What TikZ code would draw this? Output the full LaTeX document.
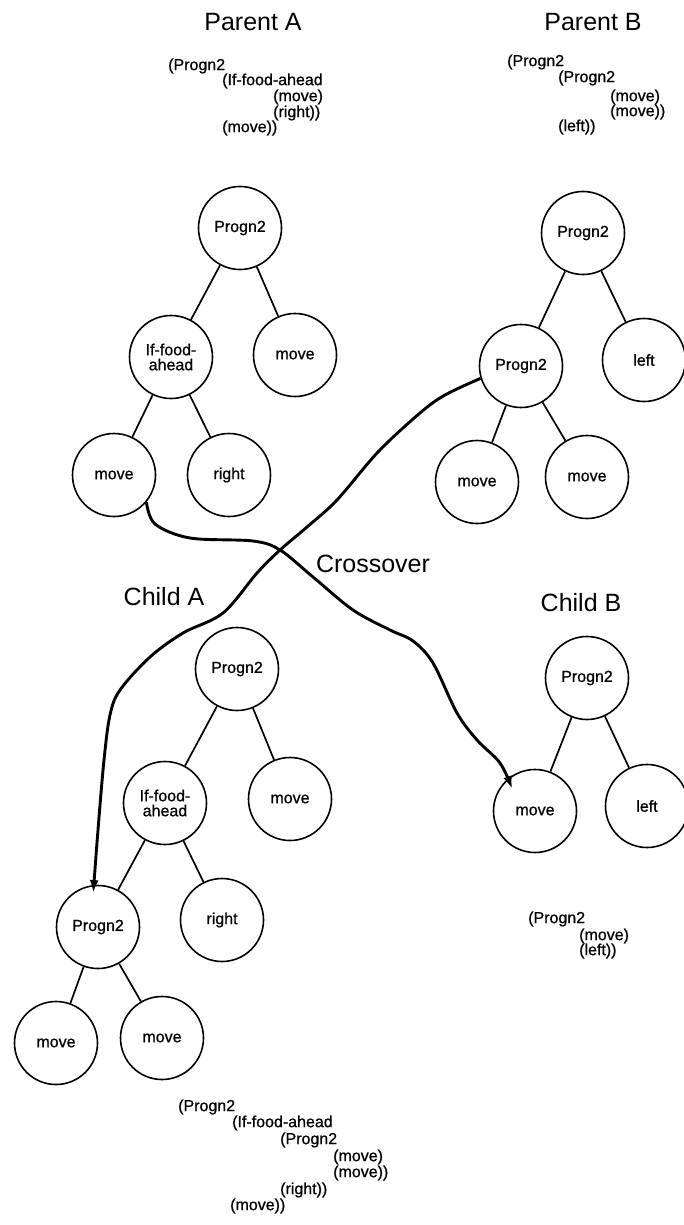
\documentclass[tikz,border=0pt]{standalone}
\usepackage{fontspec}
\setmainfont{Liberation Sans}
\newfontfamily\labfont[FakeBold=0.8]{Liberation Sans}
\usetikzlibrary{arrows.meta,calc}
\begin{document}
\begin{tikzpicture}[x=1pt,y=-1pt,
  tnode/.style={circle,draw,line width=1.6pt,minimum size=83pt,inner sep=0pt,font=\labfont\fontsize{16}{15}\selectfont,align=center},
  edge/.style={line width=1.7pt},
  xover/.style={line width=2.9pt,-{Latex[length=13pt,width=9pt]}},
  title/.style={font=\fontsize{25}{28}\selectfont,inner sep=0pt},
  code/.style={anchor=west,inner sep=0pt,font=\labfont\fontsize{16}{16}\selectfont}]
\useasboundingbox (0,0) rectangle (684,1225);

% titles
\node[title] (tPA) at (253,22) {Parent A};
\node[title] (tPB) at (593,22) {Parent B};
\node[title] (tX) at (373,564) {Crossover};
\node[title] (tCA) at (164,597) {Child A};
\node[title] (tCB) at (581,603) {Child B};

% code Parent A
\node[code] (pac1) at (168,66) {(Progn2};
\node[code] (pac2) at (222,81) {(If-food-ahead};
\node[code] (pac3) at (273,97) {(move)};
\node[code] (pac4) at (273,113) {(right))};
\node[code] (pac5) at (222,128) {(move))};

% code Parent B
\node[code] (pbc1) at (507,62) {(Progn2};
\node[code] (pbc2) at (558,78) {(Progn2};
\node[code] (pbc3) at (610,97) {(move)};
\node[code] (pbc4) at (610,112) {(move))};
\node[code] (pbc5) at (558,127) {(left))};

% code Child B
\node[code] (cbc1) at (528,919) {(Progn2};
\node[code] (cbc2) at (579,936) {(move)};
\node[code] (cbc3) at (579,951) {(left))};

% code Child A
\node[code] (cac1) at (178,1107) {(Progn2};
\node[code] (cac2) at (232,1123) {(If-food-ahead};
\node[code] (cac3) at (280,1140) {(Progn2};
\node[code] (cac4) at (333,1157) {(move)};
\node[code] (cac5) at (333,1173) {(move))};
\node[code] (cac6) at (280,1190) {(right))};
\node[code] (cac7) at (230,1206) {(move))};

% Parent A tree
\node[tnode] (pa1) at (240,228) {Progn2};
\node[tnode] (pa2) at (171,357) {If-food-\\ahead};
\node[tnode] (pa3) at (295,355) {move};
\node[tnode] (pa4) at (114,475) {move};
\node[tnode] (pa5) at (229,475) {right};
\draw[edge] (pa1) -- (pa2);
\draw[edge] (pa1) -- (pa3);
\draw[edge] (pa2) -- (pa4);
\draw[edge] (pa2) -- (pa5);

% Parent B tree
\node[tnode] (pb1) at (583,233) {Progn2};
\node[tnode] (pb2) at (521,366) {Progn2};
\node[tnode] (pb3) at (644,360) {left};
\node[tnode] (pb4) at (477,482) {move};
\node[tnode] (pb5) at (587,477) {move};
\draw[edge] (pb1) -- (pb2);
\draw[edge] (pb1) -- (pb3);
\draw[edge] (pb2) -- (pb4);
\draw[edge] (pb2) -- (pb5);

% Child A tree
\node[tnode] (ca1) at (237,669) {Progn2};
\node[tnode] (ca2) at (165,803) {If-food-\\ahead};
\node[tnode] (ca3) at (290,799) {move};
\node[tnode] (ca4) at (98,927) {Progn2};
\node[tnode] (ca5) at (222,920) {right};
\node[tnode] (ca6) at (56,1043) {move};
\node[tnode] (ca7) at (162,1038) {move};
\draw[edge] (ca1) -- (ca2);
\draw[edge] (ca1) -- (ca3);
\draw[edge] (ca2) -- (ca4);
\draw[edge] (ca2) -- (ca5);
\draw[edge] (ca4) -- (ca6);
\draw[edge] (ca4) -- (ca7);

% Child B tree
\node[tnode] (cb1) at (587,678) {Progn2};
\node[tnode] (cb2) at (535,811) {move};
\node[tnode] (cb3) at (647,806) {left};
\draw[edge] (cb1) -- (cb2);
\draw[edge] (cb1) -- (cb3);

% crossover curves
\coordinate (tipB) at ($(cb2.center)!0.75!(cb2.136)$);
\coordinate (tipA) at ($(ca4.center)!0.81!(ca4.98)$);
\draw[xover] plot[smooth,tension=0.55] coordinates {
  (pa4.-40) (155,524) (190,538) (253,541) (280,550) (313,577) (353,610)
  (390,630) (413,641) (433,663) (457,713) (477,740) (500,763) (tipB)};
\draw[xover] plot[smooth,tension=0.55] coordinates {
  (pb2.197) (445,395) (420,413) (378,452) (337,500) (307,527) (280,550)
  (257,573) (223,613) (183,633) (150,657) (120,690) (110,715) (104,760)
  (98,830) (tipA)};
\end{tikzpicture}
\end{document}
